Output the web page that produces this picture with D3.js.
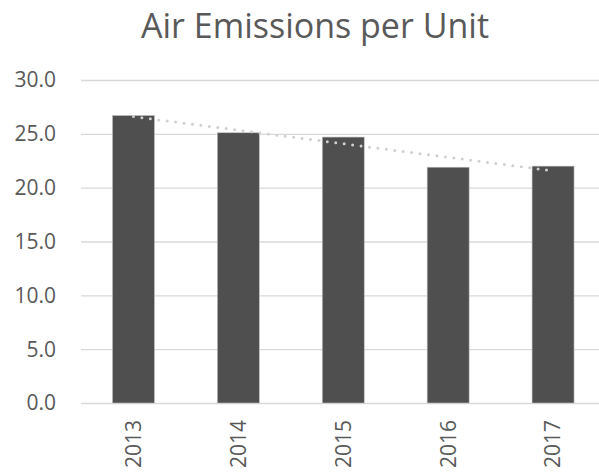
<!DOCTYPE html>
<html>
<head>
<meta charset="utf-8">
<script src="https://cdn.jsdelivr.net/npm/d3@7"></script>
<style>
  body { margin: 0; background: #fff; }
  svg { display: block; font-family: "Open Sans", "Noto Sans", sans-serif; }
</style>
</head>
<body>
<svg id="chart" width="599" height="473"></svg>
<script>
const years = ['2013', '2014', '2015', '2016', '2017'];
const emissions = [26.7, 25.1, 24.7, 21.9, 22.0];
const yTicks = [0, 5, 10, 15, 20, 25, 30];

const svg = d3.select('#chart');
const width = 599, height = 473;

const x = d3.scaleBand()
  .domain(years)
  .range([81, 605.5])
  .paddingInner(0.6)
  .paddingOuter(0.3);

const y = d3.scaleLinear()
  .domain([0, 30])
  .range([403, 80]);

// Title
svg.append('text')
  .attr('x', 315)
  .attr('y', 38)
  .attr('text-anchor', 'middle')
  .style('font-size', '34px')
  .style('fill', '#595959')
  .text('Air Emissions per Unit');

// Gridlines
svg.append('g')
  .selectAll('line')
  .data(yTicks)
  .join('line')
  .attr('x1', 81)
  .attr('x2', width)
  .attr('y1', d => y(d) + 0.5)
  .attr('y2', d => y(d) + 0.5)
  .attr('stroke', '#d9d9d9')
  .attr('stroke-width', 1.3);

// Y labels
svg.append('g')
  .selectAll('text')
  .data(yTicks)
  .join('text')
  .attr('x', 56)
  .attr('y', d => y(d))
  .attr('dy', '0.35em')
  .attr('text-anchor', 'end')
  .style('font-size', '21px')
  .style('fill', '#595959')
  .text(d => d3.format('.1f')(d));

// Bars
svg.append('g')
  .selectAll('rect')
  .data(emissions)
  .join('rect')
  .attr('x', (d, i) => x(years[i]))
  .attr('y', d => y(d))
  .attr('width', x.bandwidth())
  .attr('height', d => y(0) - y(d))
  .attr('fill', '#4f4f50')
  .attr('stroke', '#bfbfbf')
  .attr('stroke-width', 0.6);

// Linear trendline
const n = emissions.length;
const xs = d3.range(n);
const mx = d3.mean(xs), my = d3.mean(emissions);
const slope = d3.sum(xs, i => (i - mx) * (emissions[i] - my)) / d3.sum(xs, i => (i - mx) ** 2);
const icpt = my - slope * mx;
const line = d3.line()
  .x(i => x(years[i]) + x.bandwidth() / 2)
  .y(i => y(icpt + slope * i));

svg.append('path')
  .datum([0, n - 1])
  .attr('d', line)
  .attr('fill', 'none')
  .attr('stroke', '#d0d0d0')
  .attr('stroke-width', 3)
  .attr('stroke-linecap', 'round')
  .attr('stroke-dasharray', '0 8.5');

// X labels (rotated)
svg.append('g')
  .selectAll('text')
  .data(years)
  .join('text')
  .attr('transform', d => `translate(${x(d) + x.bandwidth() / 2}, 420) rotate(-90)`)
  .attr('dy', '0.35em')
  .attr('text-anchor', 'end')
  .style('font-size', '21px')
  .style('fill', '#595959')
  .text(d => d);
</script>
</body>
</html>
